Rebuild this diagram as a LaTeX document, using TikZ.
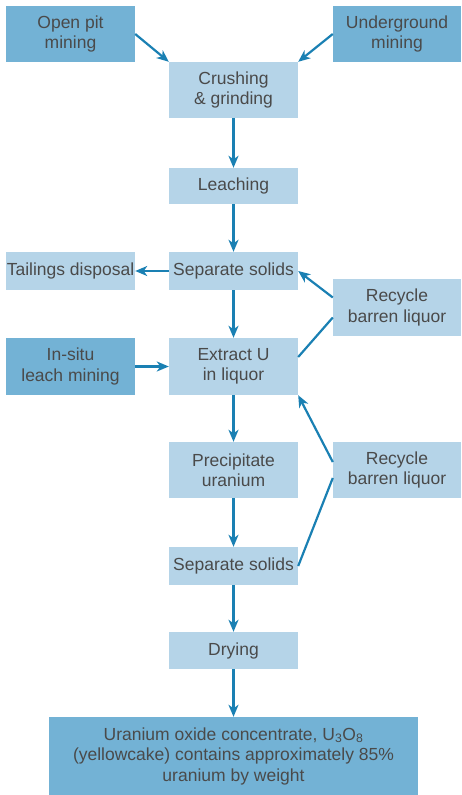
\documentclass[tikz,border=0pt]{standalone}
\usepackage{fontspec}
\setmainfont{Liberation Sans}
\usetikzlibrary{arrows.meta}
\definecolor{darkbox}{HTML}{73B2D5}
\definecolor{lightbox}{HTML}{B5D4E8}
\definecolor{arrowc}{HTML}{1A80B3}
\definecolor{textc}{HTML}{4A4A4A}
\tikzset{
  box/.style={rectangle, inner sep=0pt, align=center, text=textc,
    font=\fontsize{17.5}{20.5}\selectfont},
  lbox/.style={box, fill=lightbox},
  dbox/.style={box, fill=darkbox},
  conn/.style={draw=arrowc, line width=2.2pt},
  arr/.style={conn, -{Stealth[length=12pt,width=10pt,inset=3.5pt]}},
}
\begin{document}
\begin{tikzpicture}[x=1pt,y=-1pt]
\useasboundingbox (0,0) rectangle (461,795);
\node[dbox, minimum width=129pt, minimum height=56pt] (opm) at (70.5,34) {Open pit\\mining};
\node[dbox, minimum width=128pt, minimum height=56pt] (ugm) at (397,34) {Underground\\mining};
\node[lbox, minimum width=129pt, minimum height=56pt] (crush) at (233.5,90) {Crushing\\\& grinding};
\node[lbox, minimum width=129pt, minimum height=36pt] (leach) at (233.5,186) {Leaching};
\node[lbox, minimum width=129pt, minimum height=38pt] (sep1) at (233.5,271) {Separate solids};
\node[lbox, minimum width=129pt, minimum height=38pt] (tail) at (70.5,271) {Tailings disposal};
\node[lbox, minimum width=128pt, minimum height=57pt] (rec1) at (397,307.5) {Recycle\\barren liquor};
\node[dbox, minimum width=129pt, minimum height=57pt] (insitu) at (70.5,366.5) {In-situ\\leach mining};
\node[lbox, minimum width=129pt, minimum height=57pt] (extract) at (233.5,366.5) {Extract U\\in liquor};
\node[lbox, minimum width=129pt, minimum height=56pt] (precip) at (233.5,470) {Precipitate\\uranium};
\node[lbox, minimum width=128pt, minimum height=56pt] (rec2) at (397,470) {Recycle\\barren liquor};
\node[lbox, minimum width=129pt, minimum height=38pt] (sep2) at (233.5,566) {Separate solids};
\node[lbox, minimum width=129pt, minimum height=37pt] (dry) at (233.5,650.5) {Drying};
\node[dbox, minimum width=369pt, minimum height=78pt] (final) at (233.5,756)
  {Uranium oxide concentrate, U\textsubscript{3}O\textsubscript{8}\\(yellowcake) contains approximately 85\%\\uranium by weight};

\coordinate (r1up) at ([yshift=10pt]rec1.west);
\coordinate (r1dn) at ([yshift=-10pt]rec1.west);
\coordinate (exr) at ([yshift=9.5pt]extract.east);
\coordinate (r2up) at ([yshift=8pt]rec2.west);
\coordinate (r2dn) at ([yshift=-8pt]rec2.west);

\draw[arr] (opm.east) -- (crush.north west);
\draw[arr] (ugm.west) -- (crush.north east);
\draw[arr] (crush.south) -- (leach.north);
\draw[arr] (leach.south) -- (sep1.north);
\draw[arr] (sep1.west) -- (tail.east);
\draw[arr] (sep1.south) -- (extract.north);
\draw[arr] (insitu.east) -- (extract.west);
\draw[arr] (r1up) -- (sep1.east);
\draw[conn] (r1dn) -- (exr);
\draw[arr] (extract.south) -- (precip.north);
\draw[arr] (precip.south) -- (sep2.north);
\draw[arr] (r2up) -- (extract.south east);
\draw[conn] (r2dn) -- (sep2.east);
\draw[arr] (sep2.south) -- (dry.north);
\draw[arr] (dry.south) -- (final.north);
\end{tikzpicture}
\end{document}
